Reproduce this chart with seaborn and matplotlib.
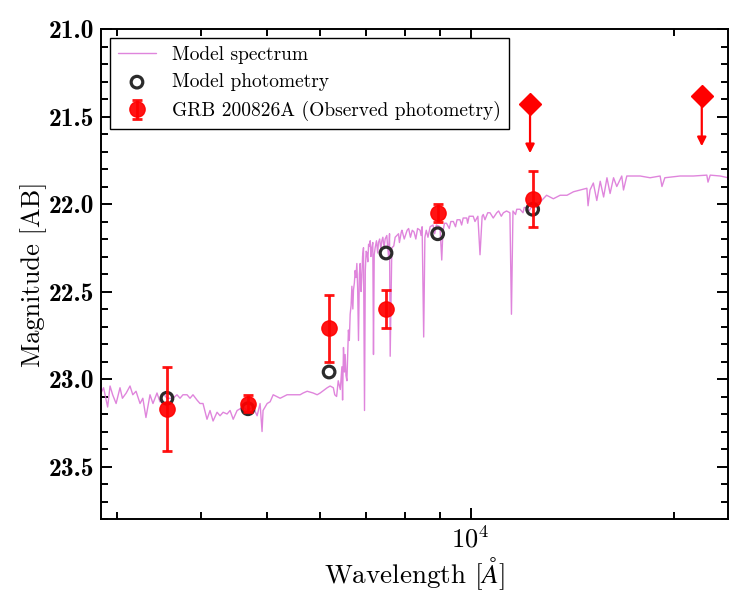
import numpy as np
import matplotlib
matplotlib.use("Agg")
import matplotlib.pyplot as plt
import seaborn as sns
from matplotlib.ticker import MultipleLocator, LogLocator, NullFormatter

# model spectrum (wavelength in Angstrom, AB mag)
spec_wave = [2836, 2870, 2910, 2934, 2960, 2995, 3035, 3060, 3100, 3140,
             3170, 3205, 3249, 3280, 3315, 3361, 3395, 3442, 3477, 3513,
             3560, 3597, 3634, 3684, 3722, 3760, 3812, 3851, 3890, 3943,
             3984, 4025, 4080, 4122, 4165, 4222, 4265, 4310, 4368, 4413,
             4460, 4520, 4566, 4613, 4676, 4724, 4773, 4838, 4887, 4920,
             4937, 5006, 5057, 5110, 5232, 5357, 5470, 5600, 5658, 5736,
             5854, 5934, 5995, 6140, 6202, 6270, 6340, 6375, 6455, 6490,
             6527, 6566, 6600, 6639, 6678, 6715, 6753, 6792, 6830, 6869,
             6908, 6947, 6971, 7030, 7068, 7107, 7147, 7187, 7228, 7310,
             7394, 7478, 7565, 7607, 7650, 7737, 7826, 7918, 8058, 8250,
             8422, 8525, 8600, 8714, 9010, 9065, 9213, 9430, 9645, 9870,
             10090, 10250, 10325, 10400, 10440, 10682, 10930, 11180, 11300, 11430,
             11490, 11550, 11830, 12100, 12370, 12660, 12950, 13250, 13560, 13880,
             14190, 14510, 14850, 14910, 15010, 15180, 15360, 15540, 15720, 15900,
             16070, 16260, 16440, 16720, 16820, 17010, 17800, 18410, 19050, 19170,
             19360, 20390, 21330, 22330, 22420, 22590, 23370, 24010]
spec_mag = [23.09, 23.05, 23.16, 23.04, 23.09, 23.14, 23.05, 23.11, 23.08, 23.04,
            23.09, 23.07, 23.14, 23.11, 23.22, 23.09, 23.14, 23.08, 23.13, 23.08,
            23.11, 23.11, 23.11, 23.09, 23.11, 23.09, 23.09, 23.11, 23.09, 23.12,
            23.14, 23.14, 23.23, 23.18, 23.24, 23.19, 23.21, 23.19, 23.20, 23.18,
            23.23, 23.18, 23.17, 23.16, 23.18, 23.17, 23.16, 23.21, 23.14, 23.30,
            23.18, 23.14, 23.13, 23.09, 23.11, 23.09, 23.09, 23.09, 23.08, 23.07,
            23.08, 23.09, 23.08, 23.05, 23.04, 23.05, 23.10, 23.01, 22.93, 22.82,
            22.86, 23.01, 22.72, 22.63, 22.47, 22.49, 22.38, 22.34, 22.78, 22.34,
            22.42, 22.25, 23.18, 22.28, 22.23, 22.21, 22.25, 22.86, 22.25, 22.22,
            22.21, 22.20, 22.30, 22.87, 22.25, 22.19, 22.17, 22.15, 22.15, 22.16,
            22.15, 22.76, 22.15, 22.13, 22.13, 22.32, 22.11, 22.10, 22.09, 22.08,
            22.07, 22.07, 22.29, 22.07, 22.06, 22.05, 22.05, 22.05, 22.04, 22.05,
            22.63, 22.04, 22.03, 22.02, 22.00, 21.99, 21.95, 21.97, 21.95, 21.95,
            21.93, 21.92, 21.91, 22.01, 21.92, 21.88, 21.98, 21.87, 21.96, 21.85,
            21.94, 21.85, 21.90, 21.84, 21.92, 21.84, 21.84, 21.85, 21.84, 21.90,
            21.85, 21.84, 21.84, 21.835, 21.875, 21.835, 21.84, 21.85]

# the dense forest of weak lines between ~6300 and 12400 A
forest_wave = [6300, 6420, 6470, 6510, 6545, 6620, 6660, 6700, 6735, 6770,
               6810, 6850, 6890, 6925, 6990, 7010, 7050, 7090, 7125, 7170,
               7205, 7260, 7290, 7340, 7370, 7420, 7450, 7520, 7540, 7590,
               7700, 7780, 7850, 7900, 7980, 8100, 8150, 8200, 8300, 8350,
               8450, 8480, 8560, 8650, 8800, 8850, 8900, 9100, 9150, 9300,
               9350, 9500, 9550, 9700, 9750, 9900, 9950, 10150, 10500, 10600,
               10800, 11000, 11100, 11650, 11700, 11950, 12000, 12200]
forest_mag = [23.09, 23.06, 23.12, 22.96, 22.98, 22.78, 22.58, 22.60, 22.45, 22.42,
              22.48, 22.40, 22.50, 22.30, 22.38, 22.27, 22.33, 22.24, 22.30, 22.22,
              22.29, 22.21, 22.28, 22.20, 22.26, 22.19, 22.25, 22.18, 22.24, 22.17,
              22.24, 22.18, 22.22, 22.16, 22.20, 22.14, 22.19, 22.15, 22.20, 22.14,
              22.18, 22.13, 22.19, 22.19, 22.12, 22.17, 22.12, 22.16, 22.11, 22.14,
              22.10, 22.13, 22.09, 22.12, 22.08, 22.11, 22.07, 22.10, 22.09, 22.05,
              22.08, 22.04, 22.07, 22.06, 22.03, 22.05, 22.02, 22.04]

# photometry
phot_wave = [3560, 4690, 6180, 7500, 8940, 12350]
model_mag = [23.11, 23.17, 22.96, 22.28, 22.17, 22.03]
obs_mag = [23.17, 23.14, 22.71, 22.60, 22.05, 21.97]
obs_err = [0.24, 0.05, 0.19, 0.11, 0.05, 0.16]

# upper limits
lim_wave = [12240, 21950]
lim_mag = [21.43, 21.38]
lim_len = [0.28, 0.29]

sns.set_theme(style="ticks")
plt.rcParams["font.family"] = ["cmr10"]
plt.rcParams["mathtext.fontset"] = "cm"
plt.rcParams["axes.formatter.use_mathtext"] = True
plt.rcParams["axes.unicode_minus"] = False
for key in ["text.color", "axes.labelcolor", "xtick.color", "ytick.color",
            "axes.edgecolor"]:
    plt.rcParams[key] = "black"

fig, ax = plt.subplots(figsize=(7.47, 5.98), dpi=100)
fig.subplots_adjust(left=0.1352, right=0.9746, top=0.9515, bottom=0.1321)

sns.lineplot(x=spec_wave + forest_wave, y=spec_mag + forest_mag, sort=True,
             estimator=None, color="orchid", lw=1.0, alpha=0.85,
             label="Model spectrum", ax=ax)
sns.scatterplot(x=phot_wave, y=model_mag, marker="o", s=70,
                facecolors="none", edgecolor="#2b2b2b", linewidth=2.3,
                label="Model photometry", zorder=3, ax=ax)
ax.errorbar(phot_wave, obs_mag, yerr=obs_err, fmt="o", color="red", ms=11,
            elinewidth=2, capsize=3.5, capthick=2, alpha=0.92, zorder=4,
            label="GRB 200826A (Observed photometry)")

# upper limits
ax.plot(lim_wave, lim_mag, "D", color="red", ms=11, zorder=5)
for w, m, l in zip(lim_wave, lim_mag, lim_len):
    ax.annotate("", xy=(w, m + l), xytext=(w, m),
                arrowprops=dict(arrowstyle="-|>", color="red", lw=1.6,
                                mutation_scale=13, shrinkA=0, shrinkB=0),
                zorder=5)

ax.set_xscale("log")
ax.set_xlim(2845, 24000)
ax.set_ylim(23.8, 21.0)
ax.yaxis.set_major_locator(MultipleLocator(0.5))
ax.yaxis.set_minor_locator(MultipleLocator(0.1))
ax.yaxis.set_major_formatter(plt.FormatStrFormatter("%.1f"))
ax.xaxis.set_minor_locator(LogLocator(base=10, subs=np.arange(2, 10)))
ax.xaxis.set_minor_formatter(NullFormatter())

ax.tick_params(which="both", direction="in", top=True, right=True, width=1.4)
ax.tick_params(which="major", length=8)
ax.tick_params(which="minor", length=5)
ax.tick_params(axis="y", labelfontfamily="cmb10", labelsize=18.5, pad=5)
ax.tick_params(axis="x", labelsize=19, pad=5)
for s in ax.spines.values():
    s.set_linewidth(1.4)

ax.set_xlabel(r"Wavelength [$\AA$]", fontsize=19.5, labelpad=2)
ax.set_ylabel("Magnitude [AB]", fontsize=19, labelpad=1)

leg = ax.legend(loc="upper left", fontsize=14, frameon=True, fancybox=False,
                framealpha=1, edgecolor="black", borderaxespad=0.45)
leg.get_frame().set_linewidth(1.0)

fig.savefig("out.png", dpi=100)
